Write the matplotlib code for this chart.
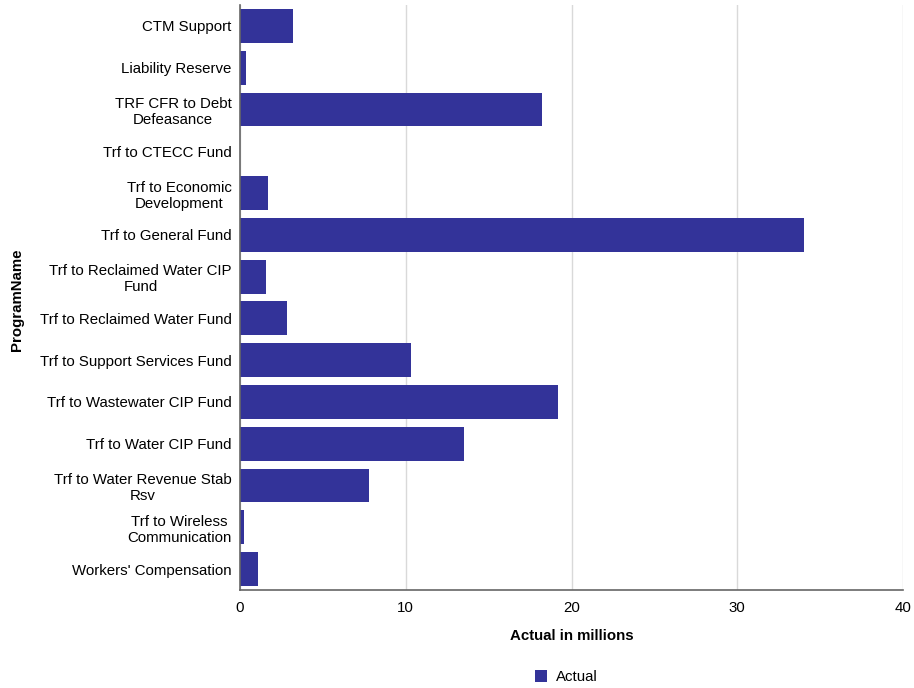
import numpy as np
import matplotlib.pyplot as plt
from matplotlib.patches import Patch

plt.rcParams['font.family'] = ['Liberation Sans', 'DejaVu Sans']

programs = [
    "CTM Support",
    "Liability Reserve",
    "TRF CFR to Debt\nDefeasance",
    "Trf to CTECC Fund",
    "Trf to Economic\nDevelopment",
    "Trf to General Fund",
    "Trf to Reclaimed Water CIP\nFund",
    "Trf to Reclaimed Water Fund",
    "Trf to Support Services Fund",
    "Trf to Wastewater CIP Fund",
    "Trf to Water CIP Fund",
    "Trf to Water Revenue Stab\nRsv",
    "Trf to Wireless\nCommunication",
    "Workers' Compensation",
]
actual = [3.2, 0.36, 18.2, 0.02, 1.67, 34.0, 1.55, 2.84, 10.3, 19.2, 13.5, 7.78, 0.22, 1.09]
xticks = [0, 10, 20, 30, 40]

bar_color = '#333399'

fig = plt.figure(figsize=(9.14, 6.88), dpi=100, facecolor='white')
ax = fig.add_axes([240 / 914, 1 - 590 / 688, 663 / 914, 585 / 688])

y = np.arange(len(programs))
ax.barh(y, actual, height=0.81, color=bar_color, zorder=3)

ax.set_ylim(len(programs) - 0.5, -0.5)
ax.set_xlim(0, 40)
ax.set_yticks(y)
ax.set_yticklabels(programs, fontsize=10.8, ha='right', multialignment='center')
ax.set_xticks(xticks)
ax.set_xticklabels([str(t) for t in xticks], fontsize=10.8)
ax.tick_params(axis='y', length=0, pad=6)
ax.tick_params(axis='x', length=0, pad=8)

# light vertical gridlines
ax.xaxis.grid(True, color='#d9d9d9', linewidth=1, zorder=0)
ax.yaxis.grid(False)

for side in ['top', 'right']:
    ax.spines[side].set_visible(False)
for side in ['left', 'bottom']:
    ax.spines[side].set_color('#666666')
    ax.spines[side].set_linewidth(1.2)
    ax.spines[side].set_zorder(4)

ax.set_xlabel("Actual in millions", fontsize=10.8, fontweight='bold', labelpad=10)
fig.text(17 / 914, 1 - 300 / 688, "ProgramName", rotation=90, fontsize=10.8,
         fontweight='bold', ha='center', va='center')

handles = [Patch(facecolor=bar_color, edgecolor='none', label='Actual')]
fig.legend(handles=handles, loc='center', bbox_to_anchor=(566 / 914, 1 - 677 / 688),
           frameon=False, fontsize=10.8, handlelength=0.8, handleheight=0.8,
           handletextpad=0.6)

plt.savefig('out.png', dpi=100, facecolor='white')
